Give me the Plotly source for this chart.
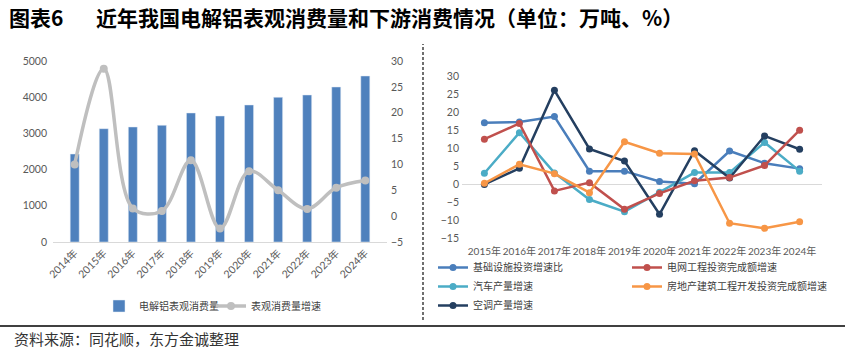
import plotly.graph_objects as go

# ---- left chart: apparent consumption of electrolytic aluminium ----
years_left = ["2014年", "2015年", "2016年", "2017年", "2018年", "2019年",
              "2020年", "2021年", "2022年", "2023年", "2024年"]
consumption = [2430, 3130, 3177, 3224, 3564, 3481, 3785, 3997, 4061, 4282, 4586]
consumption_growth = [10.0, 28.5, 1.5, 1.0, 10.8, -2.4, 8.7, 5.0, 1.4, 5.5, 6.9]

# ---- right chart: downstream growth rates ----
years_right = ["2015年", "2016年", "2017年", "2018年", "2019年",
               "2020年", "2021年", "2022年", "2023年", "2024年"]
infra = [17.2, 17.4, 18.9, 3.7, 3.7, 0.8, 0.2, 9.3, 5.9, 4.4]
grid = [12.6, 17.0, -1.8, 0.5, -6.9, -2.5, 1.0, 1.9, 5.3, 15.1]
autos = [3.1, 14.4, 3.2, -4.2, -7.6, -2.2, 3.3, 3.3, 11.7, 3.7]
realty = [0.3, 5.6, 3.0, -2.3, 11.9, 8.7, 8.5, -10.8, -12.2, -10.4]
aircon = [0.0, 4.5, 26.2, 9.9, 6.5, -8.3, 9.4, 1.8, 13.5, 9.8]

W, H = 850, 350
FONT = "Lato, Noto Sans CJK SC, sans-serif"
CJK = "Noto Sans CJK SC, sans-serif"
TICK = dict(family=FONT, size=10.5, color="#595959")


def px_x(p):
    return p / W


def px_y(p):
    return (H - p) / H


fig = go.Figure()

fig.add_trace(go.Bar(
    x=years_left, y=consumption, name="电解铝表观消费量",
    marker=dict(color="#4F81BD"), xaxis="x", yaxis="y",
    legend="legend",
))
fig.add_trace(go.Scatter(
    x=years_left, y=consumption_growth, name="表观消费量增速",
    mode="lines+markers", line=dict(color="#BFBFBF", width=3.5, shape="spline", smoothing=1),
    marker=dict(color="#BFBFBF", size=8), xaxis="x", yaxis="y2",
    legend="legend4",
))

right_series = [
    ("基础设施投资增速比", infra, "#4A7EBB", "legend2"),
    ("汽车产量增速", autos, "#4BACC6", "legend2"),
    ("空调产量增速", aircon, "#243F60", "legend2"),
    ("电网工程投资完成额增速", grid, "#C0504D", "legend3"),
    ("房地产建筑工程开发投资完成额增速", realty, "#F79646", "legend3"),
]
for name, vals, color, leg in right_series:
    fig.add_trace(go.Scatter(
        x=years_right, y=vals, name=name, mode="lines+markers",
        line=dict(color=color, width=2.5), marker=dict(color=color, size=7),
        xaxis="x2", yaxis="y3", legend=leg,
    ))

legend_common = dict(
    font=dict(family=CJK, size=10, color="#404040"),
    bgcolor="rgba(0,0,0,0)", itemwidth=30, tracegroupgap=0,
)

fig.update_layout(
    width=W, height=H,
    margin=dict(l=0, r=0, t=0, b=0, autoexpand=False),
    paper_bgcolor="white", plot_bgcolor="white",
    bargap=0.69,
    xaxis=dict(
        domain=[px_x(53), px_x(387)], anchor="y", type="category",
        showline=True, linecolor="#D9D9D9", linewidth=1, ticks="",
        tickangle=-45, tickfont=TICK, showgrid=False,
    ),
    yaxis=dict(
        domain=[px_y(242), px_y(61)], range=[0, 5000], dtick=1000,
        showgrid=False, zeroline=False, tickfont=TICK, ticks="",
        ticklabelstandoff=5,
    ),
    yaxis2=dict(
        overlaying="y", side="right", anchor="x", range=[-5, 30], dtick=5,
        showgrid=False, zeroline=False, tickfont=TICK, ticks="",
        ticklabelstandoff=3,
    ),
    xaxis2=dict(
        domain=[px_x(462), px_x(822)], anchor="y3", type="category",
        showline=False, ticks="", tickangle=0,
        tickfont=dict(family=FONT, size=10, color="#595959"),
        showgrid=False, ticklabelstandoff=6,
    ),
    yaxis3=dict(
        domain=[px_y(238.3), px_y(76.7)], anchor="x2", range=[-15, 30], dtick=5,
        showgrid=False, zeroline=True, zerolinecolor="#D9D9D9", zerolinewidth=1,
        tickfont=TICK, ticks="", ticklabelstandoff=2,
    ),
    legend=dict(
        orientation="h", x=px_x(99), xanchor="left", y=px_y(306), yanchor="middle",
        **legend_common,
    ),
    legend4=dict(
        orientation="h", x=px_x(211), xanchor="left", y=px_y(306), yanchor="middle",
        **legend_common,
    ),
    legend2=dict(
        orientation="v", x=px_x(433), xanchor="left", y=px_y(253), yanchor="top",
        **legend_common,
    ),
    legend3=dict(
        orientation="v", x=px_x(627), xanchor="left", y=px_y(253), yanchor="top",
        **legend_common,
    ),
    showlegend=True,
)

# heading
heading_font = dict(family=CJK, size=21, color="#000000", weight="bold")
fig.add_annotation(
    text="图表6", xref="paper", yref="paper", x=px_x(7), y=px_y(17),
    xanchor="left", yanchor="middle", showarrow=False, font=heading_font,
)
fig.add_annotation(
    text="近年我国电解铝表观消费量和下游消费情况（单位：万吨、%）",
    xref="paper", yref="paper", x=px_x(94), y=px_y(17),
    xanchor="left", yanchor="middle", showarrow=False, font=heading_font,
)
# source line
fig.add_annotation(
    text="资料来源：同花顺，东方金诚整理",
    xref="paper", yref="paper", x=px_x(12), y=px_y(338),
    xanchor="left", yanchor="middle", showarrow=False,
    font=dict(family=CJK, size=15, color="#333333"),
)
# rule above the source line
fig.add_shape(
    type="line", xref="paper", yref="paper",
    x0=0, x1=px_x(845), y0=px_y(326), y1=px_y(326),
    line=dict(color="#000000", width=1.5),
)
# dashed divider between the two panels
fig.add_shape(
    type="line", xref="paper", yref="paper",
    x0=px_x(423), x1=px_x(423), y0=px_y(320), y1=px_y(44),
    line=dict(color="#404040", width=1.5, dash="3px,2px"),
)

fig.write_html("out.html")
